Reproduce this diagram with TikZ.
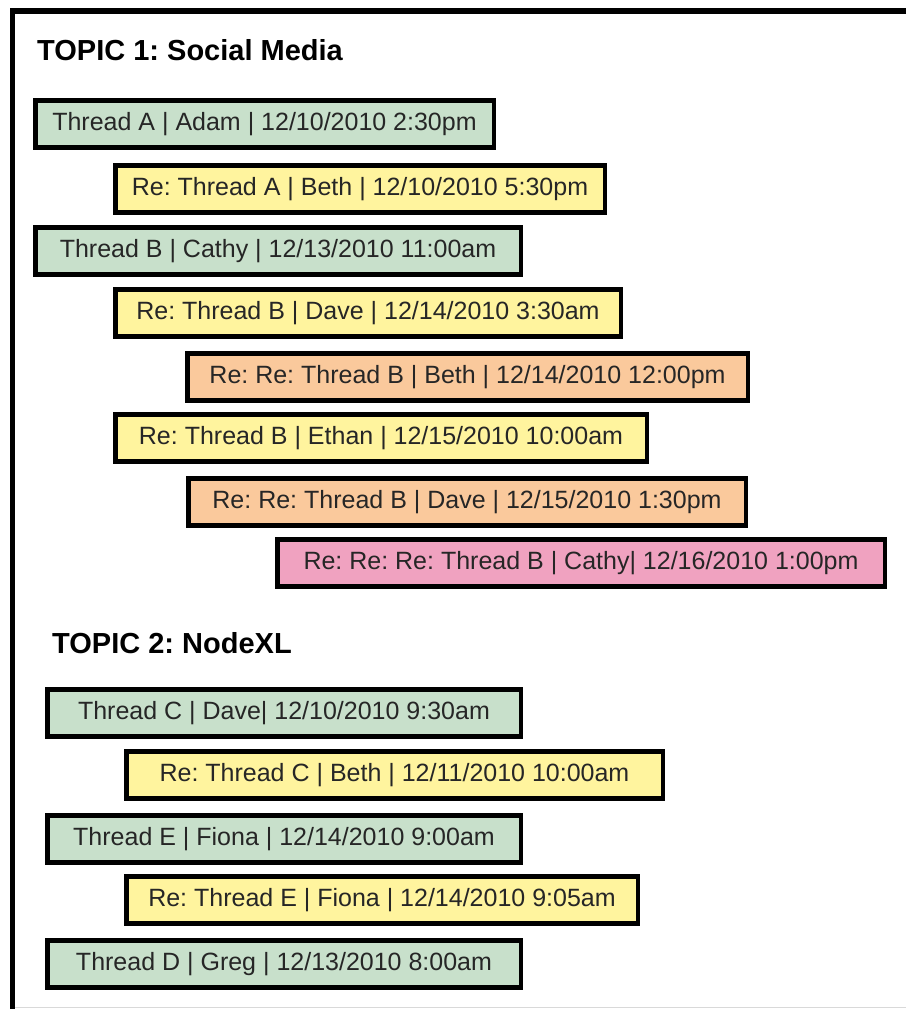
\documentclass[tikz,border=0pt]{standalone}
\usepackage{fontspec}
\setmainfont{Liberation Sans}
\usetikzlibrary{positioning}

\definecolor{threadgreen}{RGB}{200,224,203}
\definecolor{replyyellow}{RGB}{255,244,158}
\definecolor{rereorange}{RGB}{250,201,156}
\definecolor{rererepink}{RGB}{240,162,192}

\begin{document}
\frenchspacing
\begin{tikzpicture}[x=1pt, y=-1pt,
    threadbox/.style={draw=black, line width=4.5pt, anchor=north west, minimum height=47pt,
        inner sep=0pt, text height=18pt, text depth=5pt, text=black!85,
        font=\fontsize{25}{29}\selectfont},
    topbox/.style={threadbox, fill=threadgreen},
    replybox/.style={threadbox, fill=replyyellow},
    rereplybox/.style={threadbox, fill=rereorange},
    rerereplybox/.style={threadbox, fill=rererepink},
    topic/.style={anchor=base west, inner sep=0pt, font=\bfseries\fontsize{29}{34}\selectfont},]
    \useasboundingbox (0,0) rectangle (906,1009);
    %Frame
    \draw[line width=5.5pt] (906,11) -- (12.5,11) -- (12.5,1009);
    \draw[black!15, line width=1pt] (15,1007) -- (906,1007);

    %Topic 1
    \node[topic] (topic1) at (37,60) {TOPIC 1: Social Media};
    \node[topbox, minimum width=458.5pt] (threadA) at (33,98) {Thread A | Adam | 12/10/2010 2:30pm};
    \node[replybox, minimum width=489.5pt] (reA) at (113,163) {Re: Thread A | Beth | 12/10/2010 5:30pm};
    \node[topbox, minimum width=485.5pt] (threadB) at (33,225) {Thread B | Cathy | 12/13/2010 11:00am};
    \node[replybox, minimum width=505.5pt] (reB1) at (113,287) {Re: Thread B | Dave | 12/14/2010 3:30am};
    \node[rereplybox, minimum width=560.5pt] (rereB1) at (185,351) {Re: Re: Thread B | Beth | 12/14/2010 12:00pm};
    \node[replybox, minimum width=531.5pt] (reB2) at (113,412) {Re: Thread B | Ethan | 12/15/2010 10:00am};
    \node[rereplybox, minimum width=557.5pt] (rereB2) at (186,476) {Re: Re: Thread B | Dave | 12/15/2010 1:30pm};
    \node[rerereplybox, minimum width=607.5pt] (rerereB) at (275,537) {Re: Re: Re: Thread B | Cathy| 12/16/2010 1:00pm};

    %Topic 2
    \node[topic] (topic2) at (52,653) {TOPIC 2: NodeXL};
    \node[topbox, minimum width=473.5pt] (threadC) at (45,687) {Thread C | Dave| 12/10/2010 9:30am};
    \node[replybox, minimum width=536.5pt] (reC) at (124,749) {Re: Thread C | Beth | 12/11/2010 10:00am};
    \node[topbox, minimum width=473.5pt] (threadE) at (45,813) {Thread E | Fiona | 12/14/2010 9:00am};
    \node[replybox, minimum width=511.5pt] (reE) at (124,874) {Re: Thread E | Fiona | 12/14/2010 9:05am};
    \node[topbox, minimum width=473.5pt] (threadD) at (45,938) {Thread D | Greg | 12/13/2010 8:00am};
\end{tikzpicture}
\end{document}
